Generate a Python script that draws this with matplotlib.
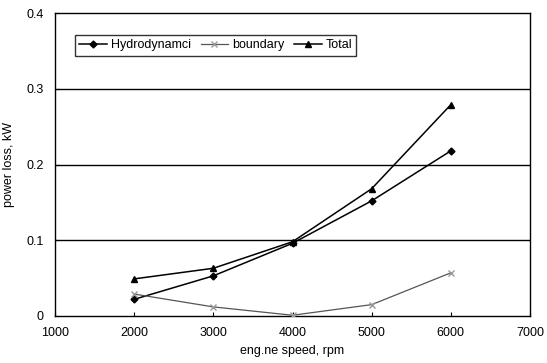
import matplotlib
matplotlib.use("Agg")
import matplotlib.pyplot as plt

plt.rcParams['font.family'] = ['Liberation Sans', 'DejaVu Sans']

speed = [2000, 3000, 4000, 5000, 6000]
hydro = [0.022, 0.053, 0.096, 0.152, 0.218]
boundary = [0.029, 0.012, 0.001, 0.015, 0.057]
total = [0.049, 0.063, 0.098, 0.168, 0.279]
xticks = [1000, 2000, 3000, 4000, 5000, 6000, 7000]
yticks = [0, 0.1, 0.2, 0.3, 0.4]
yticklabels = ['0', '0.1', '0.2', '0.3', '0.4']

fig = plt.figure(figsize=(5.47, 3.63), dpi=100)
ax = fig.add_axes([55/547, 1-316/363, 475/547, 303/363])

ax.set_xlim(1000, 7000)
ax.set_ylim(0, 0.4)
ax.set_xticks(xticks)
ax.set_yticks(yticks)
ax.set_yticklabels(yticklabels)
for y in yticks[1:-1]:
    ax.axhline(y, color='black', lw=1.0, zorder=1)

ax.plot(speed, hydro, color='black', lw=1.1, marker='D', ms=3.5, label='Hydrodynamci', zorder=3)
ax.plot(speed, boundary, color='#555555', lw=0.9, marker='x', ms=4, mec='#999999', label='boundary', zorder=3)
ax.plot(speed, total, color='black', lw=1.1, marker='^', ms=5, label='Total', zorder=3)

ax.tick_params(axis='both', direction='in', labelsize=9, length=3, width=0.8, pad=8)
ax.tick_params(axis='x', pad=8)
for s in ax.spines.values():
    s.set_linewidth(1.0)

ax.set_xlabel('eng.ne speed, rpm', fontsize=9, labelpad=4)
ax.set_ylabel('power loss, kW', fontsize=9, labelpad=8)

leg = ax.legend(loc='upper left', bbox_to_anchor=(20/475, 1-22/303), ncol=3, fontsize=9,
                frameon=True, fancybox=False, edgecolor='black', handlelength=2.2,
                handletextpad=0.3, columnspacing=0.8, borderpad=0.35, borderaxespad=0)
leg.get_frame().set_linewidth(1.0)

fig.savefig('out.png', dpi=100)
